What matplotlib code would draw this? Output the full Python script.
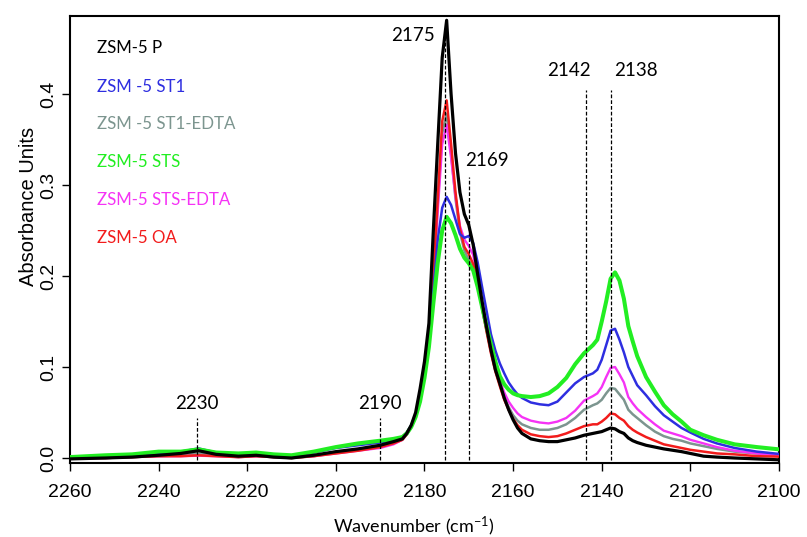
import matplotlib.pyplot as plt

# wavenumber grid (cm-1) and absorbance of each sample
wn = [2260, 2252, 2246, 2240, 2235, 2231, 2227, 2222, 2218, 2214,
      2210, 2205, 2200, 2195, 2190, 2187, 2185, 2184, 2183, 2182,
      2181, 2180, 2179, 2178, 2177, 2176, 2175, 2174, 2173, 2172,
      2171, 2170, 2169, 2168, 2167, 2166, 2165, 2164, 2163, 2162,
      2161, 2160, 2159, 2158, 2156, 2154, 2152, 2150, 2148, 2146,
      2144, 2142, 2141, 2140, 2139, 2138, 2137, 2136, 2135, 2134,
      2133, 2132, 2130, 2128, 2126, 2124, 2122, 2120, 2117, 2114,
      2110, 2105, 2100]

zsm5_p = [-0.001, 0.000, 0.001, 0.003, 0.005, 0.008, 0.004, 0.002, 0.003, 0.001,
          0.000, 0.003, 0.007, 0.010, 0.014, 0.018, 0.021, 0.027, 0.036, 0.050,
          0.076, 0.106, 0.148, 0.250, 0.346, 0.440, 0.481, 0.400, 0.335, 0.292,
          0.268, 0.256, 0.234, 0.202, 0.172, 0.144, 0.119, 0.097, 0.082, 0.066,
          0.053, 0.042, 0.033, 0.027, 0.021, 0.019, 0.018, 0.018, 0.020, 0.022,
          0.025, 0.027, 0.028, 0.029, 0.031, 0.033, 0.032, 0.029, 0.027, 0.022,
          0.019, 0.017, 0.014, 0.012, 0.010, 0.0085, 0.007, 0.005, 0.002, 0.001,
          0.000, -0.001, -0.002]

zsm5_st1 = [0.000, 0.001, 0.003, 0.005, 0.007, 0.0105, 0.006, 0.004, 0.004, 0.002,
            0.002, 0.006, 0.011, 0.014, 0.017, 0.020, 0.023, 0.028, 0.036, 0.048,
            0.068, 0.095, 0.130, 0.185, 0.240, 0.275, 0.287, 0.278, 0.262, 0.246,
            0.242, 0.244, 0.236, 0.215, 0.188, 0.162, 0.136, 0.118, 0.104, 0.093,
            0.083, 0.076, 0.070, 0.066, 0.061, 0.059, 0.058, 0.062, 0.072, 0.082,
            0.089, 0.093, 0.097, 0.108, 0.124, 0.140, 0.142, 0.130, 0.116, 0.100,
            0.090, 0.080, 0.069, 0.057, 0.047, 0.040, 0.033, 0.028, 0.021, 0.016,
            0.011, 0.007, 0.0045]

zsm5_st1_edta = [0.000, 0.000, 0.001, 0.002, 0.003, 0.005, 0.003, 0.001, 0.002, 0.001,
                 0.000, 0.002, 0.006, 0.009, 0.013, 0.017, 0.020, 0.026, 0.034, 0.046,
                 0.067, 0.096, 0.132, 0.198, 0.280, 0.357, 0.378, 0.335, 0.285, 0.248,
                 0.228, 0.217, 0.208, 0.190, 0.165, 0.140, 0.117, 0.097, 0.081, 0.067,
                 0.056, 0.047, 0.041, 0.037, 0.033, 0.031, 0.031, 0.033, 0.037, 0.044,
                 0.053, 0.058, 0.060, 0.064, 0.071, 0.077, 0.076, 0.070, 0.064, 0.053,
                 0.048, 0.044, 0.036, 0.029, 0.024, 0.021, 0.019, 0.016, 0.013, 0.010,
                 0.007, 0.005, 0.003]

zsm5_sts = [0.001, 0.003, 0.004, 0.007, 0.007, 0.0095, 0.006, 0.005, 0.006, 0.004,
            0.003, 0.007, 0.012, 0.016, 0.019, 0.021, 0.023, 0.027, 0.034, 0.045,
            0.062, 0.088, 0.122, 0.170, 0.215, 0.250, 0.265, 0.258, 0.245, 0.230,
            0.220, 0.214, 0.206, 0.188, 0.166, 0.145, 0.125, 0.106, 0.090, 0.081,
            0.075, 0.071, 0.069, 0.068, 0.067, 0.068, 0.071, 0.078, 0.088, 0.103,
            0.115, 0.124, 0.130, 0.150, 0.172, 0.197, 0.204, 0.195, 0.175, 0.145,
            0.128, 0.112, 0.089, 0.073, 0.058, 0.048, 0.040, 0.031, 0.025, 0.020,
            0.015, 0.012, 0.0095]

zsm5_sts_edta = [0.000, 0.000, 0.001, 0.002, 0.002, 0.0025, 0.002, 0.001, 0.002, 0.001,
                 0.001, 0.002, 0.005, 0.008, 0.011, 0.015, 0.020, 0.026, 0.034, 0.045,
                 0.066, 0.094, 0.130, 0.192, 0.272, 0.345, 0.366, 0.330, 0.287, 0.255,
                 0.240, 0.233, 0.223, 0.198, 0.171, 0.145, 0.121, 0.101, 0.085, 0.072,
                 0.062, 0.055, 0.049, 0.045, 0.041, 0.039, 0.038, 0.040, 0.044, 0.052,
                 0.063, 0.068, 0.071, 0.078, 0.089, 0.099, 0.100, 0.092, 0.083, 0.067,
                 0.060, 0.054, 0.045, 0.037, 0.030, 0.027, 0.024, 0.020, 0.016, 0.012,
                 0.008, 0.005, 0.003]

zsm5_oa = [0.000, 0.000, 0.001, 0.002, 0.002, 0.003, 0.002, 0.001, 0.002, 0.001,
           0.000, 0.002, 0.005, 0.008, 0.012, 0.016, 0.020, 0.026, 0.034, 0.045,
           0.066, 0.095, 0.132, 0.200, 0.285, 0.370, 0.393, 0.345, 0.292, 0.252,
           0.232, 0.224, 0.213, 0.192, 0.165, 0.139, 0.115, 0.095, 0.079, 0.064,
           0.053, 0.043, 0.036, 0.031, 0.026, 0.024, 0.023, 0.024, 0.027, 0.031,
           0.035, 0.037, 0.037, 0.040, 0.044, 0.049, 0.048, 0.044, 0.041, 0.035,
           0.031, 0.028, 0.023, 0.019, 0.015, 0.013, 0.011, 0.009, 0.007, 0.005,
           0.004, 0.002, 0.0015]

names = ['ZSM-5 P', 'ZSM -5 ST1', 'ZSM -5 ST1-EDTA', 'ZSM-5 STS',
         'ZSM-5 STS-EDTA', 'ZSM-5 OA']
series = [zsm5_p, zsm5_st1, zsm5_st1_edta, zsm5_sts, zsm5_sts_edta, zsm5_oa]
colors = ['#000000', '#2e2ee0', '#7c958f', '#22ee22', '#f533f5', '#f21c1c']
widths = [2.3, 1.8, 1.8, 2.9, 1.7, 1.8]

# band positions marked with dashed lines, and their labels
band_pos = [2231.3, 2190.0, 2175.4, 2170.0, 2143.6, 2137.8]
band_lab = ['2230', '2190', '2175', '2169', '2142', '2138']
band_top = [0.044, 0.044, 0.467, 0.309, 0.404, 0.404]
lab_xy = [(2231.3, 0.060), (2190.0, 0.060), (2182.7, 0.464),
          (2165.8, 0.327), (2147.5, 0.426), (2132.3, 0.426)]

plt.rcParams['font.family'] = ['Liberation Sans', 'DejaVu Sans']
plt.rcParams['mathtext.fontset'] = 'custom'
plt.rcParams['mathtext.rm'] = 'Lato'
plt.rcParams['mathtext.it'] = 'Lato:italic'
label_font = ['Lato', 'DejaVu Sans']

fig = plt.figure(figsize=(8.07, 5.37), dpi=100)
ax = fig.add_axes([0.0867, 0.1378, 0.8786, 0.8324])

draw_order = [2, 4, 5, 1, 3, 0]
for i in draw_order:
    ax.plot(wn, series[i], color=colors[i], lw=widths[i], zorder=3 + draw_order.index(i))

for x, top in zip(band_pos, band_top):
    ax.plot([x, x], [-0.002, top], color='black', lw=0.9, ls=(0, (3, 1.6)), zorder=10)
for lab, (x, y) in zip(band_lab, lab_xy):
    ax.text(x, y, lab, ha='center', va='center', fontsize=13.5, family=label_font)

legend_y = [0.928, 0.841, 0.758, 0.673, 0.588, 0.503]
for name, c, y in zip(names, colors, legend_y):
    ax.text(0.038, y, name, transform=ax.transAxes, color=c, ha='left', va='center',
            fontsize=12.2, family=label_font)

ax.set_xlim(2260, 2100)
ax.set_ylim(-0.0055, 0.4857)
ax.set_xticks(range(2260, 2099, -20))
ax.set_yticks([0.0, 0.1, 0.2, 0.3, 0.4])
ax.set_yticklabels(['0.0', '0.1', '0.2', '0.3', '0.4'], rotation=90, va='center')
ax.tick_params(axis='x', direction='out', length=6, width=1, labelsize=14, pad=9)
ax.tick_params(axis='y', direction='out', length=6, width=1, labelsize=14, pad=3)
for s in ax.spines.values():
    s.set_linewidth(1.5)

ax.set_ylabel('Absorbance Units', fontsize=14.5)
ax.yaxis.set_label_coords(-0.045, 0.573)
ax.set_xlabel(r'Wavenumber (cm$^{-1}$)', fontsize=13, family=label_font)
ax.xaxis.set_label_coords(0.485, -0.115)

fig.savefig('out.png', dpi=100)
